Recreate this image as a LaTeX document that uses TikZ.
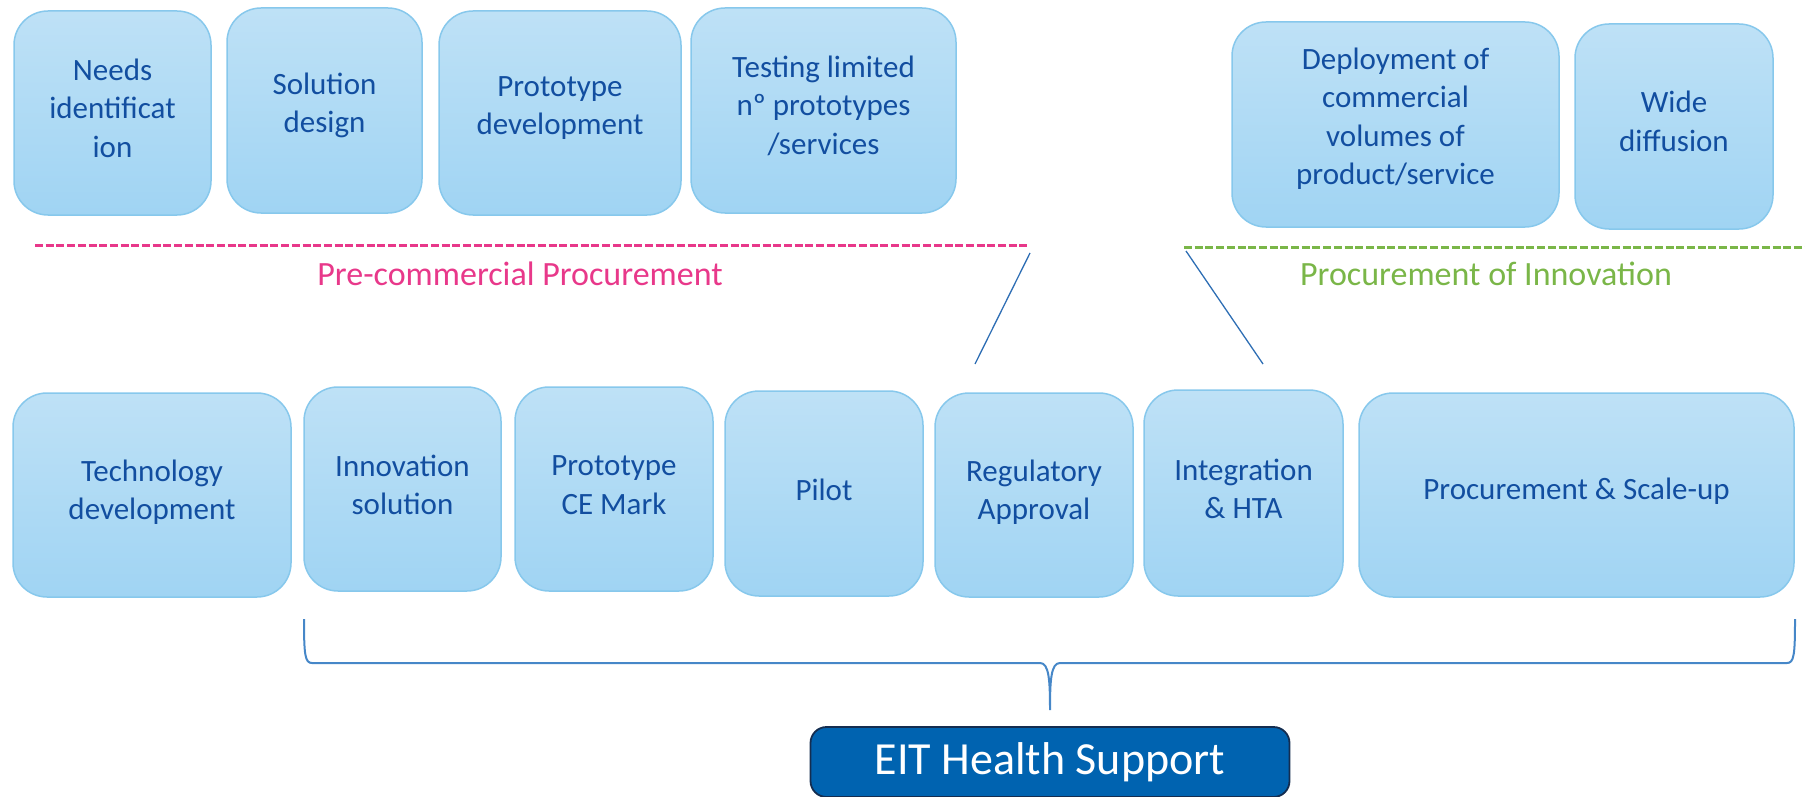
\documentclass[tikz,border=0pt]{standalone}
\usepackage{fontspec}
\setmainfont{Carlito}
\definecolor{boxtop}{RGB}{190,225,246}
\definecolor{boxbot}{RGB}{160,212,243}
\definecolor{boxline}{RGB}{135,200,236}
\definecolor{txtblue}{RGB}{18,78,160}
\definecolor{pinkc}{RGB}{232,56,138}
\definecolor{greenc}{RGB}{122,182,72}
\definecolor{linec}{RGB}{46,110,180}
\definecolor{bracec}{RGB}{70,135,200}
\definecolor{eitfill}{RGB}{0,99,176}
\definecolor{eitline}{RGB}{20,45,80}
% #1 name, #2-#5 box corners, #6 upward text shift, #7 text
\newcommand{\mybox}[7]{%
  \node[stagebox, minimum width={(#4-#2)*1pt}, minimum height={(#5-#3)*1pt}]
    (#1) at ({(#2+#4)/2},{(#3+#5)/2}) {};
  \node[stagetext] (#1-t) at ({(#2+#4)/2},{(#3+#5)/2-#6}) {#7};}
\begin{document}
\begin{tikzpicture}[x=1pt,y=-1pt,
  stagebox/.style={draw=boxline, line width=1.5pt, rounded corners=34pt,
    top color=boxtop, bottom color=boxbot, inner sep=0pt},
  stagetext/.style={inner sep=0pt, align=center,
    text=txtblue, font=\fontsize{31}{38.5}\selectfont},
  phaselabel/.style={font=\fontsize{34}{40}\selectfont, inner sep=0pt},
  slant/.style={draw=linec, line width=1.3pt},
  phasedash/.style={line width=3pt, dash pattern=on 8pt off 2.7pt}]
\useasboundingbox (0,0) rectangle (1805,797);
% top row
\mybox{needs}{14}{11}{211}{215}{5}{Needs\\identificat\\ion}
\mybox{soldes}{227}{8}{422}{213}{5}{Solution\\design}
\mybox{protodev}{439}{11}{681}{215}{5}{Prototype\\development}
\mybox{testing}{691}{8}{956}{213}{5}{Testing limited\\nº prototypes\\/services}
\mybox{deploy}{1232}{22}{1559}{227}{6}{Deployment of\\commercial\\volumes of\\product/service}
\mybox{wide}{1575}{24}{1773}{229}{5}{Wide\\diffusion}
% bottom row
\mybox{tech}{13}{393}{291}{597}{3}{Technology\\development}
\mybox{innov}{304}{387}{501}{591}{4}{Innovation\\solution}
\mybox{protoce}{515}{387}{713}{591}{4}{Prototype\\CE Mark}
\mybox{pilot}{725}{391}{923}{596}{4}{Pilot}
\mybox{regul}{935}{393}{1133}{597}{3}{Regulatory\\Approval}
\mybox{integ}{1144}{390}{1343}{596}{4}{Integration\\\& HTA}
\mybox{procure}{1359}{393}{1794}{597}{4}{Procurement \& Scale-up}
% phase lines
\coordinate (pcpL) at (35,245);
\coordinate (pcpR) at (1030,245);
\coordinate (poiL) at (1184,247);
\coordinate (poiR) at (1805,247);
\draw[phasedash, draw=pinkc] (pcpL) -- (pcpR);
\draw[phasedash, draw=greenc] (poiL) -- (poiR);
\node[phaselabel, text=pinkc] (pcplab) at (520,274) {Pre-commercial Procurement};
\node[phaselabel, text=greenc] (poilab) at (1486,274) {Procurement of Innovation};
% slanted lines
\coordinate (s1a) at (1030,253);
\coordinate (s1b) at (975,364);
\coordinate (s2a) at (1186,251);
\coordinate (s2b) at (1263,364);
\draw[slant] (s1a) -- (s1b);
\draw[slant] (s2a) -- (s2b);
% brace
\coordinate (brL) at (304,619);
\coordinate (brR) at (1795,619);
\coordinate (brT) at (1050,710);
\draw[draw=bracec, line width=2pt]
  (brL) .. controls (304,655) and (305,663) .. (312,663)
  -- (1040,663) .. controls (1049,663) and (1050,680) .. (brT)
  .. controls (1050,680) and (1051,663) .. (1060,663)
  -- (1787,663) .. controls (1794,663) and (1795,655) .. (brR);
% EIT box
\node[draw=eitline, line width=1.8pt, fill=eitfill, rounded corners=16pt,
  minimum width=479pt, minimum height=70pt, inner sep=0pt, text=white,
  font=\fontsize{46}{50}\selectfont] (eit) at (1050,762) {EIT Health Support};
\end{tikzpicture}
\end{document}
